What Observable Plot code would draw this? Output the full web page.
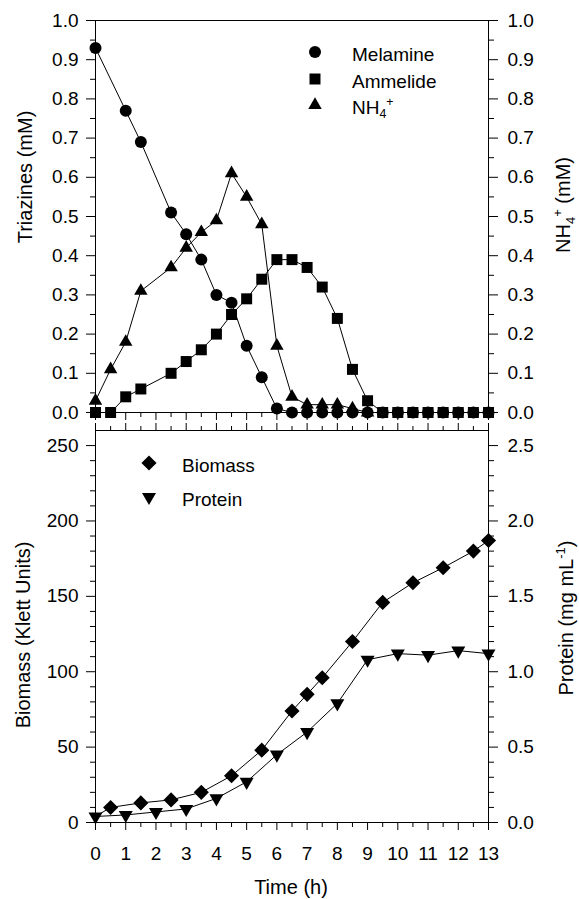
<!DOCTYPE html>
<html><head><meta charset="utf-8">
<script src="https://cdn.jsdelivr.net/npm/d3@7"></script>
<script src="https://cdn.jsdelivr.net/npm/@observablehq/plot@0.6"></script>
<style>
body{margin:0;background:#fff;}
#wrap{position:relative;width:579px;height:899px;font-family:"Liberation Sans",Arial,sans-serif;color:#000;overflow:hidden;}
#wrap svg.plot{position:absolute;left:0;}
.vt{position:absolute;transform:translate(-50%,-50%) rotate(-90deg);white-space:nowrap;font-size:20px;line-height:1;}
.ht{position:absolute;transform:translate(-50%,-50%);white-space:nowrap;font-size:20px;line-height:1;}
.lg{position:absolute;transform:translateY(-50%);white-space:nowrap;font-size:19px;line-height:1;}
.sym{position:absolute;overflow:visible;}
sub,sup{font-size:65%;line-height:0;}
</style></head><body><div id="wrap"></div>
<script>
// ---- Top panel data (mM) ----
const melTime = [0,1,1.5,2.5,3,3.5,4,4.5,5,5.5,6,6.5,7,7.5,8,8.5,9,9.5,10,10.5,11,11.5,12,12.5,13];
const melamine = [0.93,0.77,0.69,0.51,0.455,0.39,0.30,0.28,0.17,0.09,0.01,0,0,0,0,0,0,0,0,0,0,0,0,0,0];
const ammTime = [0,0.5,1,1.5,2.5,3,3.5,4,4.5,5,5.5,6,6.5,7,7.5,8,8.5,9,9.5,10,10.5,11,11.5,12,12.5,13];
const ammelide = [0,0,0.04,0.06,0.10,0.13,0.16,0.20,0.25,0.29,0.34,0.39,0.39,0.37,0.32,0.24,0.11,0.03,0,0,0,0,0,0,0,0];
const nhTime = [0,0.5,1,1.5,2.5,3,3.5,4,4.5,5,5.5,6,6.5,7,7.5,8,8.5,9];
const ammonium = [0.03,0.11,0.18,0.31,0.37,0.42,0.46,0.49,0.61,0.55,0.48,0.17,0.04,0.02,0.02,0.02,0.01,0.0];
// ---- Bottom panel data ----
const bioTime = [0,0.5,1.5,2.5,3.5,4.5,5.5,6.5,7,7.5,8.5,9.5,10.5,11.5,12.5,13];
const biomass = [4,10,13,15,20,31,48,74,85,96,120,146,159,169,180,187]; // Klett units
const protTime = [0,1,2,3,4,5,6,7,8,9,10,11,12,13];
const protein = [0.04,0.05,0.07,0.09,0.16,0.27,0.45,0.60,0.79,1.08,1.12,1.11,1.14,1.12]; // mg/mL
// ---- Tick labels ----
const timeTicks = d3.range(0,14);
const timeMinor = d3.range(0.5,13,1);
const triTicks = d3.range(0,11).map(i=>i/10);
const triMinor = d3.range(0,10).map(i=>i/10+0.05);
const bioTicks = [0,50,100,150,200,250];
const bioMinor = d3.range(10,260,10).filter(v=>v%50!==0);
const protTicks = [0,0.5,1.0,1.5,2.0,2.5];
const protScale = 100; // right axis: protein (mg/mL) * 100 = Klett axis value

const mel = melTime.map((t,i)=>({t, v: melamine[i]}));
const amm = ammTime.map((t,i)=>({t, v: ammelide[i]}));
const nh = nhTime.map((t,i)=>({t, v: ammonium[i]}));
const bio = bioTime.map((t,i)=>({t, v: biomass[i]}));
const prot = protTime.map((t,i)=>({t, v: protein[i]}));

const triDown = {draw(ctx, size){
  const s = Math.sqrt(size/(Math.sqrt(3)/4)), h = s*Math.sqrt(3)/2;
  ctx.moveTo(-s/2,-h/3); ctx.lineTo(s/2,-h/3); ctx.lineTo(0,2*h/3); ctx.closePath();
}};
const SYM = {
  circle: {symbol:"circle", r:6},
  square: {symbol:"square", r:6.2},
  triangle: {symbol:"triangle", r:5},
  diamond: {symbol:"diamond2", r:6.8},
  tdown: {symbol:triDown, r:5.2}
};
const FONT = '"Liberation Sans", Arial, sans-serif';
const W = 579, ML = 95, MR = 91;

const topPlot = Plot.plot({
  width: W, height: 421, marginLeft: ML, marginRight: MR, marginTop: 20, marginBottom: 9,
  style: {fontFamily: FONT, fontSize: "19px", color: "#000", background: "transparent", overflow: "visible"},
  x: {domain: [0,13]}, y: {domain: [0,1]},
  marks: [
    Plot.frame({stroke:"#000"}),
    Plot.axisY({anchor:"left", ticks: triTicks, tickSize: 9, tickPadding: 8, tickFormat: d3.format(".1f"), label: null}),
    Plot.axisY({anchor:"left", ticks: triMinor, tickSize: 5, tickFormat: ()=>"", label: null}),
    Plot.axisY({anchor:"right", ticks: triTicks, tickSize: 9, tickPadding: 10, tickFormat: d3.format(".1f"), label: null}),
    Plot.axisY({anchor:"right", ticks: triMinor, tickSize: 5, tickFormat: ()=>"", label: null}),
    Plot.axisX({anchor:"bottom", ticks: timeTicks, tickSize: 8, tickFormat: ()=>"", label: null}),
    Plot.axisX({anchor:"bottom", ticks: timeMinor, tickSize: 5, tickFormat: ()=>"", label: null}),
    Plot.line(mel, {x:"t", y:"v", stroke:"#000", strokeWidth:1}),
    Plot.line(amm, {x:"t", y:"v", stroke:"#000", strokeWidth:1}),
    Plot.line(nh, {x:"t", y:"v", stroke:"#000", strokeWidth:1}),
    Plot.dot(nh, {x:"t", y:"v", fill:"#000", stroke:null, ...SYM.triangle}),
    Plot.dot(mel, {x:"t", y:"v", fill:"#000", stroke:null, ...SYM.circle}),
    Plot.dot(amm, {x:"t", y:"v", fill:"#000", stroke:null, ...SYM.square})
  ]
});
topPlot.style.top = "0px";

const botPlot = Plot.plot({
  width: W, height: 478, marginLeft: ML, marginRight: MR, marginTop: 9, marginBottom: 77,
  style: {fontFamily: FONT, fontSize: "19px", color: "#000", background: "transparent", overflow: "visible"},
  x: {domain: [0,13]}, y: {domain: [0,260]},
  marks: [
    Plot.frame({stroke:"#000"}),
    Plot.axisY({anchor:"left", ticks: bioTicks, tickSize: 9, tickPadding: 8, label: null}),
    Plot.axisY({anchor:"left", ticks: bioMinor, tickSize: 5, tickFormat: ()=>"", label: null}),
    Plot.axisY({anchor:"right", ticks: protTicks.map(v=>v*protScale), tickSize: 9, tickPadding: 10, tickFormat: d=>(d/protScale).toFixed(1), label: null}),
    Plot.axisY({anchor:"right", ticks: bioMinor, tickSize: 5, tickFormat: ()=>"", label: null}),
    Plot.axisX({anchor:"bottom", ticks: timeTicks, tickSize: 8, tickPadding: 16, tickFormat: d3.format("d"), label: null}),
    Plot.axisX({anchor:"bottom", ticks: timeMinor, tickSize: 5, tickFormat: ()=>"", label: null}),
    Plot.axisX({anchor:"top", ticks: timeTicks, tickSize: 8, tickFormat: ()=>"", label: null}),
    Plot.axisX({anchor:"top", ticks: timeMinor, tickSize: 5, tickFormat: ()=>"", label: null}),
    Plot.line(bio, {x:"t", y:"v", stroke:"#000", strokeWidth:1}),
    Plot.line(prot, {x:"t", y: d=>d.v*protScale, stroke:"#000", strokeWidth:1}),
    Plot.dot(bio, {filter: d=>d.t>0, x:"t", y:"v", fill:"#000", stroke:null, ...SYM.diamond}),
    Plot.dot(prot, {x:"t", y: d=>d.v*protScale, fill:"#000", stroke:null, ...SYM.tdown})
  ]
});
botPlot.style.top = "421px";

const wrap = document.getElementById("wrap");
topPlot.classList.add("plot"); botPlot.classList.add("plot");
wrap.appendChild(topPlot); wrap.appendChild(botPlot);

function addText(cls, html, x, y){
  const d = document.createElement("div"); d.className = cls; d.innerHTML = html;
  d.style.left = x+"px"; d.style.top = y+"px"; wrap.appendChild(d);
}
function addSym(s, x, y){
  const size = s.r*s.r*Math.PI;
  const type = typeof s.symbol === "string" ? ({circle:d3.symbolCircle,square:d3.symbolSquare,triangle:d3.symbolTriangle,diamond2:d3.symbolDiamond2})[s.symbol] : s.symbol;
  const svg = d3.create("svg").attr("class","sym").attr("width",20).attr("height",20)
    .style("left",(x-10)+"px").style("top",(y-10)+"px");
  svg.append("path").attr("transform","translate(10,10)").attr("d", d3.symbol(type, size)()).attr("fill","#000");
  wrap.appendChild(svg.node());
}
const NH4 = 'NH<sub>4</sub><sup>+</sup>';
// axis titles
addText("vt", "Triazines (mM)", 25, 177);
addText("vt", NH4 + " (mM)", 563, 205);
addText("vt", "Biomass (Klett Units)", 23, 635);
addText("vt", "Protein (mg mL<sup>-1</sup>)", 566, 618);
addText("ht", "Time (h)", 291, 887);
// legends
const legTop = [["circle","Melamine",52],["square","Ammelide",79],["triangle",NH4,105]];
legTop.forEach(([k,t,y])=>{ addSym(SYM[k],315,y); addText("lg",t,352,y+2); });
const legBot = [["diamond","Biomass",463],["tdown","Protein",497]];
legBot.forEach(([k,t,y])=>{ addSym(SYM[k],149,y); addText("lg",t,182,y+2); });
</script></body></html>
